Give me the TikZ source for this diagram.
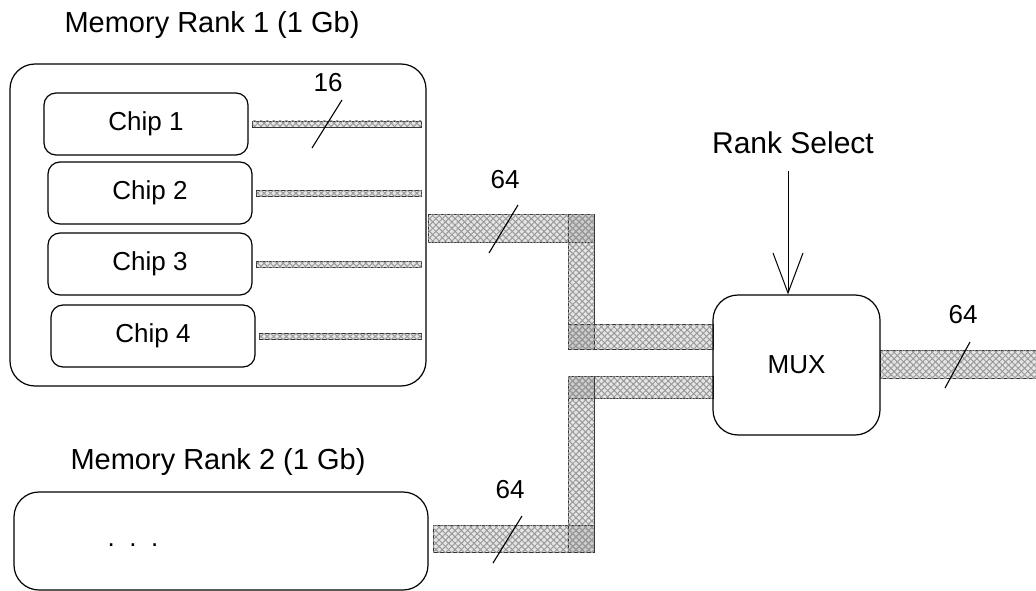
\documentclass[tikz,border=0pt]{standalone}
\usepackage{fontspec}
\setmainfont{Liberation Sans}
\usetikzlibrary{arrows.meta,patterns.meta}
\tikzset{
	box/.style={draw, line width=1.2pt, rounded corners=#1, inner sep=0pt},
	box/.default=25pt,
	bus/.style={draw=black!80, line width=0.9pt, fill=black, fill opacity=0.1,
		postaction={fill opacity=1, pattern={Lines[angle=45,distance=4.5pt,line width=1pt]}, pattern color=black!40},
		postaction={fill opacity=1, pattern={Lines[angle=-45,distance=4.5pt,line width=1pt]}, pattern color=black!40}},
	slash/.style={line width=1.1pt},
	title/.style={font=\fontsize{29}{34}\selectfont}
}
\begin{document}
\begin{tikzpicture}[x=1pt,y=-1pt,font=\fontsize{26}{30}\selectfont]
		\useasboundingbox (0,0) rectangle (1036,591);
		% rank 1 and its chips
		\node[box, minimum width=416pt, minimum height=322pt] (rank1) at (218,225) {};
		\node[title] (rank1 title) at (212,25) {Memory Rank 1 (1 Gb)};
		\foreach \i/\x/\y in {1/146/124, 2/150/193, 3/150/264, 4/153/336}
		{
			\node[box=12pt, minimum width=204pt, minimum height=62pt] (chip\i) at (\x,\y) {Chip \i};
			\path[bus] ([xshift=4pt,yshift=3pt]chip\i.east) rectangle ([xshift=-5pt,yshift=-3pt]chip\i.east -| rank1.east);
		}
		\node (w16) at (328,83) {16};
		\draw[slash] (342,100) -- (312,148);
		% rank 2
		\node[box, minimum width=414pt, minimum height=98pt] (rank2) at (221,541) {};
		\node[title] (rank2 title) at (218,462) {Memory Rank 2 (1 Gb)};
		\node (dots) at (133,545) {.~~.~~.};
		% buses into the mux
		\path[bus] (428,214) rectangle (594,242);
		\path[bus] (568,214) rectangle (594,349);
		\path[bus] (568,324) rectangle (713,349);
		\path[bus] (568,376) rectangle (713,398);
		\path[bus] (568,376) rectangle (594,552);
		\path[bus] (433,525) rectangle (594,552);
		\path[bus] (880,350) rectangle (1040,378);
		\node (w64a) at (505,180) {64};
		\draw[slash] (518,205) -- (489,253);
		\node (w64b) at (510,490) {64};
		\draw[slash] (522,516) -- (493,563);
		\node (w64c) at (963,315) {64};
		\draw[slash] (970,342) -- (945,388);
		% mux
		\node[box, minimum width=167pt, minimum height=140pt] (mux) at (796.5,365) {MUX};
		\node[font=\fontsize{30}{34}\selectfont] (sel) at (793,143) {Rank Select};
		\draw[line width=1pt, -{Straight Barb[length=40pt,width=30pt,line width=1pt]}]
			([xshift=-5pt,yshift=-13pt]sel.south) -- ([xshift=-5pt]sel.south |- mux.north);
\end{tikzpicture}
\end{document}
